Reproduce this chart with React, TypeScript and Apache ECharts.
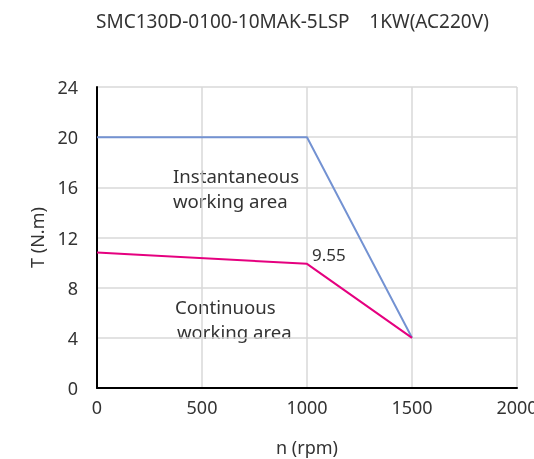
import React, { useEffect, useRef } from "react";
import * as echarts from "echarts";

const titleText = "SMC130D-0100-10MAK-5LSP    1KW(AC220V)";
const speeds = [0, 1000, 1500];
const instantaneous = [20, 20, 4];
const continuous = [10.8, 9.9, 4];
const kneeLabel = "9.55";
const xTicks = [0, 500, 1000, 1500, 2000];
const yTicks = [0, 4, 8, 12, 16, 20, 24];
const instLabel = ["Instantaneous", "working area"];
const contLabel = ["Continuous", "working area"];

const FONT = "'Noto Sans', sans-serif";

export default function App() {
  const ref = useRef<HTMLDivElement>(null);
  useEffect(() => {
    if (!ref.current) return;
    const chart = echarts.init(ref.current, undefined, { renderer: "svg" });
    const textStyle = { fontFamily: FONT, fontSize: 18.6, fill: "#333", verticalAlign: "middle" };
    chart.setOption({
      animation: false,
      textStyle: { fontFamily: FONT },
      title: {
        text: titleText,
        left: 96,
        top: 11,
        padding: 0,
        textStyle: { fontFamily: FONT, fontSize: 19, fontWeight: "normal", color: "#333" },
      },
      grid: { left: 97, right: 17, top: 87, bottom: 71, containLabel: false, outerBoundsMode: "none" },
      xAxis: {
        type: "value",
        min: xTicks[0],
        max: xTicks[xTicks.length - 1],
        interval: 500,
        name: "n (rpm)",
        nameLocation: "middle",
        nameGap: 50,
        nameTextStyle: { fontFamily: FONT, fontSize: 18, color: "#333" },
        axisLine: { show: true, lineStyle: { color: "#000", width: 2 } },
        axisTick: { show: false },
        axisLabel: { fontFamily: FONT, fontSize: 18, color: "#333", margin: 10, hideOverlap: false, formatter: (v: number) => String(v) },
        splitLine: { show: true, lineStyle: { color: "#d9d9d9", width: 1.5 } },
      },
      yAxis: {
        type: "value",
        min: yTicks[0],
        max: yTicks[yTicks.length - 1],
        interval: 4,
        name: "T (N.m)",
        nameLocation: "middle",
        nameGap: 51,
        nameRotate: 90,
        nameTextStyle: { fontFamily: FONT, fontSize: 18, color: "#333" },
        axisLine: { show: true, lineStyle: { color: "#000", width: 2 } },
        axisTick: { show: false },
        axisLabel: { fontFamily: FONT, fontSize: 18, color: "#333", margin: 19, formatter: (v: number) => String(v) },
        splitLine: { show: true, lineStyle: { color: "#d9d9d9", width: 1.5 } },
      },
      series: [
        {
          type: "line",
          data: speeds.map((s, i) => [s, instantaneous[i]]),
          symbol: "none",
          lineStyle: { color: "#7392d2", width: 2 },
          z: 3,
        },
        {
          type: "line",
          data: speeds.map((s, i) => [s, continuous[i]]),
          symbol: "none",
          lineStyle: { color: "#e5007f", width: 2 },
          z: 4,
          markPoint: {
            symbol: "circle",
            symbolSize: 0,
            data: [{ coord: [speeds[1], continuous[1]] }],
            label: {
              show: true,
              formatter: kneeLabel,
              position: "right",
              offset: [0, -9],
              fontFamily: FONT,
              fontSize: 17,
              color: "#333",
            },
          },
        },
      ],
      graphic: [
        { type: "text", x: 173, y: 175, style: { ...textStyle, text: instLabel[0] } },
        { type: "text", x: 173, y: 200, style: { ...textStyle, text: instLabel[1] } },
        { type: "text", x: 175, y: 306, style: { ...textStyle, text: contLabel[0] } },
        { type: "text", x: 177, y: 331, style: { ...textStyle, text: contLabel[1] } },
      ],
    });
    return () => chart.dispose();
  }, []);
  return <div ref={ref} style={{ position: "fixed", left: 0, top: 0, width: 534, height: 459 }} />;
}
